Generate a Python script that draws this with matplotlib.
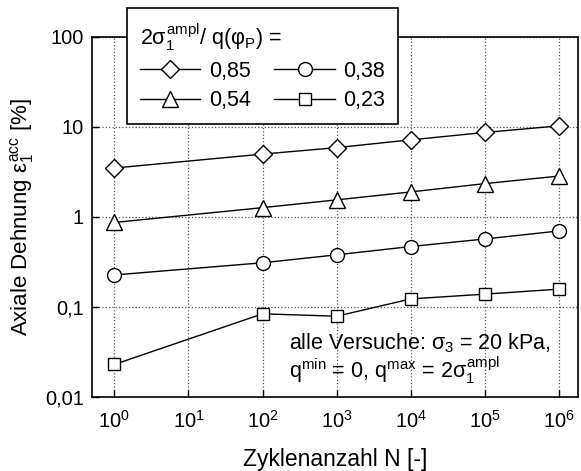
import matplotlib
matplotlib.use('Agg')
import matplotlib.pyplot as plt
from matplotlib.ticker import FixedLocator, FixedFormatter, NullLocator

plt.rcParams['font.family'] = ['Liberation Sans', 'DejaVu Sans']
plt.rcParams['mathtext.fontset'] = 'custom'
plt.rcParams['mathtext.rm'] = 'Liberation Sans'
plt.rcParams['mathtext.it'] = 'Liberation Sans'
plt.rcParams['mathtext.bf'] = 'Liberation Sans:bold'

# Zyklenanzahl N
N = [1, 1e2, 1e3, 1e4, 1e5, 1e6]

# axiale Dehnung [%] je Amplitudenverhaeltnis
eps_085 = [3.5, 5.0, 5.9, 7.2, 8.7, 10.3]
eps_054 = [0.87, 1.27, 1.55, 1.9, 2.35, 2.85]
eps_038 = [0.227, 0.31, 0.38, 0.47, 0.57, 0.70]
eps_023 = [0.023, 0.084, 0.079, 0.123, 0.139, 0.158]

lb = ['0,85', '0,54', '0,38', '0,23']

yticks = [0.01, 0.1, 1, 10, 100]
ylabels = ['0,01', '0,1', '1', '10', '100']
xticks = [1, 1e1, 1e2, 1e3, 1e4, 1e5, 1e6]
xlabels = [r'$10^{%d}$' % i for i in range(7)]

fig = plt.figure(figsize=(5.81, 4.71), dpi=100)
ax = fig.add_axes([92/581, 1-397/471, (578-92)/581, (397-37)/471])

mk = dict(color='black', lw=1.0, markerfacecolor='white', markeredgecolor='black', markeredgewidth=1.0)
l1, = ax.plot(N, eps_085, marker='D', ms=9, label=lb[0], **mk)
l2, = ax.plot(N, eps_054, marker='^', ms=12, label=lb[1], **mk)
l3, = ax.plot(N, eps_038, marker='o', ms=10, label=lb[2], **mk)
l4, = ax.plot(N, eps_023, marker='s', ms=8.6, label=lb[3], **mk)

ax.set_xscale('log')
ax.set_yscale('log')
ax.set_xlim(0.5, 1.8e6)
ax.set_ylim(0.01, 100)

ax.xaxis.set_major_locator(FixedLocator(xticks))
ax.xaxis.set_major_formatter(FixedFormatter(xlabels))
ax.yaxis.set_major_locator(FixedLocator(yticks))
ax.yaxis.set_major_formatter(FixedFormatter(ylabels))
ax.xaxis.set_minor_locator(NullLocator())
ax.yaxis.set_minor_locator(NullLocator())

ax.tick_params(direction='in', length=5, width=1, labelsize=14.5)
ax.tick_params(axis='x', pad=9)
ax.tick_params(axis='y', pad=6)
ax.grid(True, which='major', linestyle=':', color='#555555', lw=0.9)
for s in ax.spines.values():
    s.set_linewidth(1.2)
    s.set_color('black')

ax.set_xlabel('Zyklenanzahl N [-]', fontsize=16.5, labelpad=12)
ax.set_ylabel(r'Axiale Dehnung $\varepsilon_1^{\rm acc}$ [%]', fontsize=16, labelpad=6)

ax.text(0.405, 0.131, r'alle Versuche: $\sigma_3$ = 20 kPa,', transform=ax.transAxes,
        fontsize=15.5, ha='left', va='baseline')
ax.text(0.405, 0.053, r'q$^{\rm min}$ = 0, q$^{\rm max}$ = 2$\sigma_1^{\rm ampl}$', transform=ax.transAxes,
        fontsize=15.5, ha='left', va='baseline')

leg = fig.legend(handles=[l1, l2, l3, l4], ncol=2, loc='upper left',
                 bbox_to_anchor=(127/581, 1-8/471), borderaxespad=0, fontsize=15.5,
                 title=r'2$\sigma_1^{\rm ampl}$/ q($\varphi_{\rm P}$) =', title_fontsize=15.5,
                 alignment='left', fancybox=False, framealpha=1, edgecolor='black',
                 handlelength=2.8, handletextpad=0.4, columnspacing=1.1,
                 borderpad=0.6, labelspacing=0.38)
leg.get_frame().set_linewidth(1.2)

fig.savefig('out.png', dpi=100)
plt.close(fig)
